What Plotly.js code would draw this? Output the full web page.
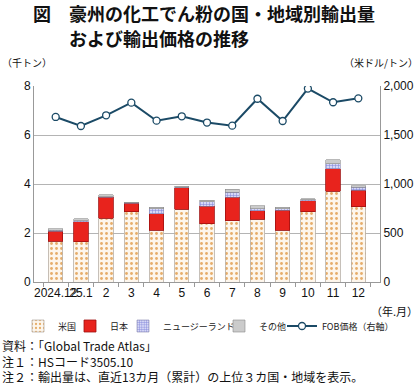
<!DOCTYPE html>
<html><head><meta charset="utf-8">
<script src="https://cdn.plot.ly/plotly-3.0.1.min.js"></script>
<style>html,body{margin:0;padding:0;background:#fff}#c{width:420px;height:384px}</style>
</head><body><div id="c"></div>
<script>
const months = ["2024.12","25.1","2","3","4","5","6","7","8","9","10","11","12"];
const usa    = [1.67,1.65,2.60,2.87,2.12,2.97,2.38,2.50,2.57,2.12,2.87,3.71,3.07];
const japan  = [0.41,0.80,0.86,0.35,0.67,0.88,0.72,0.96,0.34,0.81,0.44,0.91,0.68];
const nz     = [0.04,0.05,0.03,0.02,0.20,0.02,0.17,0.21,0.08,0.06,0.04,0.20,0.11];
const other  = [0.06,0.08,0.07,0.01,0.07,0.03,0.06,0.11,0.12,0.06,0.05,0.16,0.06];
const fob    = [1684,1592,1701,1830,1646,1691,1627,1595,1870,1643,1974,1834,1874];
const seriesNames = ["米国","日本","ニュージーランド","その他","FOB価格（右軸）"];

const jp = '"Noto Sans CJK JP", sans-serif';
const num = '"Liberation Sans", Arial, sans-serif';

const barW = 0.57;
const traces = [
  {type:'bar', x:months, y:usa, name:seriesNames[0], width:barW, legend:'legend',
   marker:{color:'#fdf5ea', line:{color:'#b8b0a8', width:0.8},
     pattern:{shape:'.', fgcolor:'#e6ad6a', bgcolor:'#fdf6ec', size:5, solidity:0.25}}},
  {type:'bar', x:months, y:japan, name:seriesNames[1], width:barW, legend:'legend2',
   marker:{color:'#e8231d', line:{color:'#a01010', width:0.8}}},
  {type:'bar', x:months, y:nz, name:seriesNames[2], width:barW, legend:'legend3',
   marker:{color:'#c5c8ef', line:{color:'#8888b0', width:0.6},
     pattern:{shape:'+', fgcolor:'#7c80d8', bgcolor:'#d6d8f6', size:3, solidity:0.3}}},
  {type:'bar', x:months, y:other, name:seriesNames[3], width:barW, legend:'legend4',
   marker:{color:'#cbcbcb', line:{color:'#8a8a8a', width:0.6}}},
  {type:'scatter', mode:'lines+markers', x:months, y:fob, name:seriesNames[4], yaxis:'y2', legend:'legend5',
   line:{color:'#1b4a66', width:2},
   marker:{symbol:'circle', size:7, color:'#ffffff', line:{color:'#1b4a66', width:1.3}}}
];

const P = 346, H = 196;
function px(x){ return (x-34)/P; }
function py(y){ return (282-y)/H; }

function leg(textStart){
  return {orientation:'h', xref:'container', x:(textStart-40)/420, xanchor:'left',
    yref:'container', y:1-326/384, yanchor:'middle',
    font:{family:jp, size:9, color:'#222'}, itemwidth:30, bgcolor:'rgba(0,0,0,0)', borderwidth:0};
}

const layout = {
  width:420, height:384,
  margin:{l:34, r:40, t:86, b:102},
  paper_bgcolor:'#fff', plot_bgcolor:'#fff',
  barmode:'stack',
  showlegend:true,
  legend:leg(58), legend2:leg(110), legend3:leg(163), legend4:leg(259), legend5:leg(322),
  xaxis:{type:'category', tickson:'boundaries', ticks:'outside', ticklen:4, tickcolor:'#999',
    showline:true, linecolor:'#999', linewidth:1, showgrid:false, tickangle:0,
    tickfont:{family:num, size:12, color:'#111'}, fixedrange:true},
  yaxis:{range:[0,8], tickvals:[0,2,4,6,8], showline:true, linecolor:'#999', linewidth:1,
    gridcolor:'#b4b4b4', gridwidth:1, zeroline:false, ticks:'',
    tickfont:{family:num, size:12, color:'#111'}},
  yaxis2:{range:[0,2000], tickvals:[0,500,1000,1500,2000],
    ticktext:['0','500','1,000','1,500','2,000'], overlaying:'y', side:'right',
    showline:true, linecolor:'#999', linewidth:1, showgrid:false, zeroline:false, ticks:'',
    tickfont:{family:num, size:12, color:'#111'}},
  annotations:[
    {xref:'paper', yref:'paper', x:px(31), y:py(13), xanchor:'left', yanchor:'middle',
     text:'図', showarrow:false, font:{family:jp, size:18, color:'#111', weight:'bold'}},
    {xref:'paper', yref:'paper', x:px(67), y:py(13), xanchor:'left', yanchor:'middle',
     text:'豪州の化工でん粉の国・地域別輸出量', showarrow:false, font:{family:jp, size:18, color:'#111', weight:'bold'}},
    {xref:'paper', yref:'paper', x:px(67), y:py(38), xanchor:'left', yanchor:'middle',
     text:'および輸出価格の推移', showarrow:false, font:{family:jp, size:18, color:'#111', weight:'bold'}},
    {xref:'paper', yref:'paper', x:px(0), y:py(62), xanchor:'left', yanchor:'middle',
     text:'（千トン）', showarrow:false, font:{family:jp, size:10, color:'#111'}},
    {xref:'paper', yref:'paper', x:px(420), y:py(62), xanchor:'right', yanchor:'middle',
     text:'（米ドル/トン）', showarrow:false, font:{family:jp, size:10, color:'#111'}},
    {xref:'paper', yref:'paper', x:px(420), y:py(311), xanchor:'right', yanchor:'middle',
     text:'（年.月）', showarrow:false, font:{family:jp, size:11, color:'#111'}},
    {xref:'paper', yref:'paper', x:px(0), y:py(361), xanchor:'left', yanchor:'middle', align:'left',
     text:'資料：「Global Trade Atlas」<br>注１：HSコード3505.10<br>注２：輸出量は、直近13カ月（累計）の上位３カ国・地域を表示。',
     showarrow:false, font:{family:jp, size:12, color:'#111'}}
  ]
};
Plotly.newPlot('c', traces, layout, {staticPlot:true, displayModeBar:false});
</script></body></html>
